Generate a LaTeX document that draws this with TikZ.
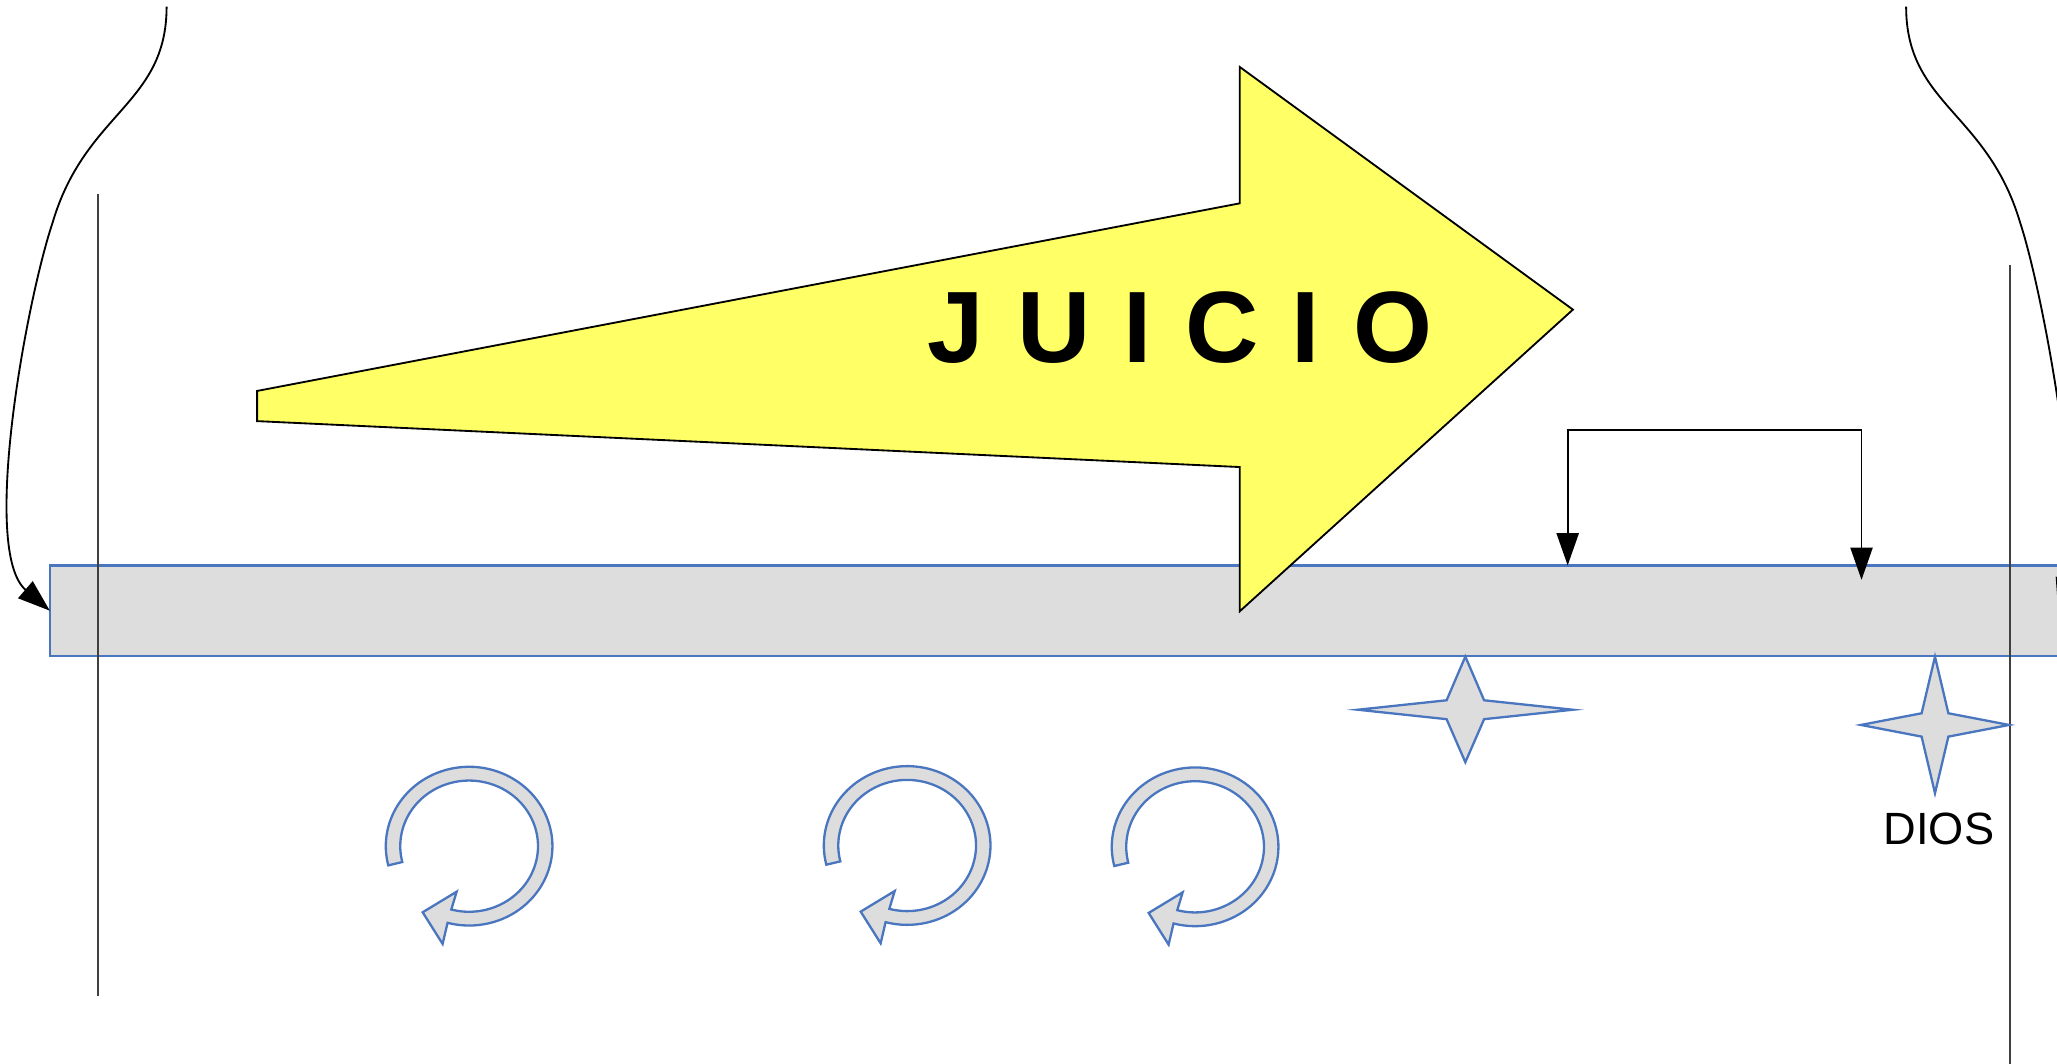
\documentclass[tikz,border=0pt]{standalone}
\usepackage{fontspec}
\setmainfont{Liberation Sans}
\usetikzlibrary{positioning,calc,arrows.meta}
\definecolor{amarillo}{HTML}{FFFF66}
\definecolor{gris}{HTML}{DDDDDD}
\definecolor{azul}{HTML}{4A76C0}

\begin{document}
\begin{tikzpicture}[x=0.01cm,y=-0.01cm,line join=miter]
  \tikzset{
    punta/.tip={Triangle[length=7pt,width=4.8pt]},
    barra/.style={draw=azul,fill=gris,line width=0.5pt,minimum width=15.30cm,
                  minimum height=0.69cm,inner sep=0pt,outer sep=0pt,anchor=north west},
    curva/.style={draw=black,line width=0.4pt,-punta},
    corchete/.style={draw=black,line width=0.4pt,punta-punta},
    linea/.style={draw=black!75,line width=0.45pt},
    flecha/.style={draw=black,fill=amarillo,line width=0.4pt},
    estrella/.style={draw=azul,fill=gris,line width=0.5pt},
    giro/.style={draw=azul,fill=gris,line width=0.5pt},
  }
  \useasboundingbox (0,0) rectangle (1568,811);
  \clip (0,0) rectangle (1568,811);
  % ---- bar ----
  \node[barra] (barra) at (38,431) {};
  % ---- curved arrows ----
  \coordinate (izq) at (127,5);
  \coordinate (der) at (1453,5);
  \draw[curva] (izq) .. controls (127,80) and (65,85) .. (40,170)
                     .. controls (20,230) and (-15,420) .. (barra.west);
  \draw[curva] (der) .. controls (1453,80) and (1515,85) .. (1540,170)
                     .. controls (1558,225) and (1588,395) .. (barra.east);
  % ---- vertical lines ----
  \draw[linea] (75,148) -- (75,759);
  \draw[linea] (1532,202) -- (1532,811);
  % ---- big arrow ----
  \draw[flecha] (196,298) -- (945,155) -- (945,51) -- (1199,236)
                -- (945,466) -- (945,356) -- (196,321) -- cycle;
  \node[font=\fontsize{22}{26}\selectfont\bfseries,anchor=base] (juicio) at (899.5,276)
       {J\hspace{7.2pt}U\hspace{7.2pt}I\hspace{7.2pt}C\hspace{7.2pt}I\hspace{7.2pt}O};
  % ---- bracket ----
  \coordinate (ta) at (1195,431);
  \coordinate (tb) at (1419,442);
  \draw[corchete] (ta) -- ++(0,-103) -| (tb);
  % ---- stars ----
  \foreach \cx/\cy/\hw/\ha/\hb/\ix/\iy [count=\k] in
      {1117/541/82/40.5/40/14.3/7.2, 1475/552.6/56.5/52/52/10.2/8.9} {
    \coordinate (e\k) at (\cx,\cy);
    \draw[estrella] ($(e\k)+(0,-\ha)$) -- ($(e\k)+(\ix,-\iy)$) -- ($(e\k)+(\hw,0)$)
        -- ($(e\k)+(\ix,\iy)$) -- ($(e\k)+(0,\hb)$) -- ($(e\k)+(-\ix,\iy)$)
        -- ($(e\k)+(-\hw,0)$) -- ($(e\k)+(-\ix,-\iy)$) -- cycle;
  }
  \node[font=\fontsize{9.8}{12}\selectfont,anchor=base] (dios) at (1478,644) {DIOS};
  % ---- circular arrows ----
  \foreach \cx/\cy [count=\k] in {357.6/645, 691.5/644.5, 911/645.5} {
    \coordinate (g\k) at (\cx,\cy);
    \draw[giro] ($(g\k)+(166:52.5 and 50)$) -- ($(g\k)+(166:63.5 and 60.5)$)
        arc[start angle=166,end angle=465,x radius=63.5,y radius=60.5]
        -- ($(g\k)+(-20.2,74.5)$) -- ($(g\k)+(-35.4,50.4)$) -- ($(g\k)+(-9.5,34.7)$)
        -- ($(g\k)+(465:52.5 and 50)$)
        arc[start angle=465,end angle=166,x radius=52.5,y radius=50] -- cycle;
  }
\end{tikzpicture}
\end{document}
